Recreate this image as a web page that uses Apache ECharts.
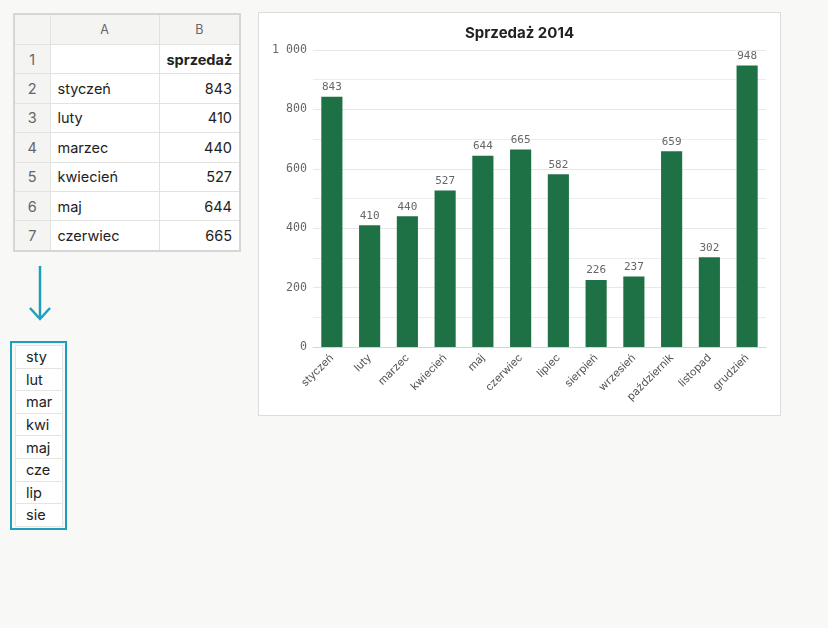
<!DOCTYPE html>
<html>
<head>
<meta charset="utf-8">
<script src="https://cdn.jsdelivr.net/npm/echarts@6/dist/echarts.min.js"></script>
<style>
  html, body { margin: 0; padding: 0; background: #f8f8f6; width: 828px; height: 628px; overflow: hidden; font-family: Inter, "Noto Sans", sans-serif; }
  #sheet { position: absolute; left: 13px; top: 13px; border-collapse: collapse; table-layout: fixed; width: 228px; border: 2px solid #d6d6d4; background: #fff; }
  #sheet td, #sheet th { border: 1px solid #e2e2e0; height: 28.4px; padding: 0 7px; font-size: 14.5px; color: #222; overflow: hidden; white-space: nowrap; }
  #sheet th { background: #f4f4f2; color: #666; font-weight: normal; font-size: 12.5px; height: 29px; }
  #sheet td.rn { background: #f4f4f2; color: #666; text-align: center; padding: 0; }
  #sheet td.num { text-align: right; }
  #sheet td.hd { text-align: right; font-weight: bold; }
  #arrow { position: absolute; left: 26px; top: 264px; }
  #short { position: absolute; left: 10px; top: 341px; border: 2px solid #1ea0bd; padding: 2px 2px 1px 3px; }
  #short table { border-collapse: collapse; background: #fff; }
  #short td { border: 1px solid #e4e4e2; width: 36px; height: 21.6px; padding: 0 0 0 10px; font-size: 14.5px; color: #222; }
  #chartBox { position: absolute; left: 258px; top: 12px; width: 521px; height: 402px; background: #fff; border: 1.5px solid #dcdcda; }
  #chart { width: 521px; height: 402px; }
</style>
</head>
<body>
<table id="sheet"><colgroup><col style="width:36px"><col style="width:109px"><col style="width:81px"></colgroup><tbody></tbody></table>
<svg id="arrow" width="28" height="60">
  <line x1="14" y1="2" x2="14" y2="55" stroke="#1ea0bd" stroke-width="2.5"/>
  <polyline points="4,44 14,55 24,44" fill="none" stroke="#1ea0bd" stroke-width="2.5"/>
</svg>
<div id="short"><table></table></div>
<div id="chartBox"><div id="chart"></div></div>
<script>
// dane
const chartTitle = "Sprzedaż 2014";
const seriesName = "sprzedaż";
const months = ["styczeń", "luty", "marzec", "kwiecień", "maj", "czerwiec", "lipiec", "sierpień", "wrzesień", "październik", "listopad", "grudzień"];
const sales = [843, 410, 440, 527, 644, 665, 582, 226, 237, 659, 302, 948];
const sheetRows = 6; // ile miesięcy widać w arkuszu
const shortMonths = ["sty", "lut", "mar", "kwi", "maj", "cze", "lip", "sie"];
const yTicks = [0, 200, 400, 600, 800, 1000];

// arkusz
let html = '<tr><th></th><th>A</th><th>B</th></tr>';
html += '<tr><td class="rn">1</td><td></td><td class="hd">' + seriesName + '</td></tr>';
for (let i = 0; i < sheetRows; i++) {
  html += '<tr><td class="rn">' + (i + 2) + '</td><td>' + months[i] + '</td><td class="num">' + sales[i] + '</td></tr>';
}
document.querySelector("#sheet tbody").innerHTML = html;

// skróty
document.querySelector("#short table").innerHTML = shortMonths.map(s => '<tr><td>' + s + '</td></tr>').join("");

// wykres
const chart = echarts.init(document.getElementById("chart"), null, { renderer: "canvas" });
const mono = "'DejaVu Sans Mono', 'Liberation Mono', monospace";
chart.setOption({
  animation: false,
  title: {
    text: chartTitle,
    left: "center",
    top: 8,
    textStyle: { fontFamily: "Inter, 'Noto Sans', sans-serif", fontSize: 15, fontWeight: "bold", color: "#222" }
  },
  grid: { left: 54, right: 14, top: 37, bottom: 68 },
  xAxis: {
    type: "category",
    data: months,
    axisLine: { lineStyle: { color: "#d4d4d4" } },
    axisTick: { show: false },
    axisLabel: { rotate: 45, interval: 0, margin: 9, fontFamily: "Inter, 'Noto Sans', sans-serif", fontSize: 11, color: "#555" }
  },
  yAxis: {
    type: "value",
    min: yTicks[0],
    max: yTicks[yTicks.length - 1],
    interval: 200,
    axisLine: { show: false },
    axisTick: { show: false },
    splitLine: { lineStyle: { color: "#e8e8e8" } },
    minorTick: { show: false, splitNumber: 2 },
    minorSplitLine: { show: true, lineStyle: { color: "#ececec" } },
    axisLabel: {
      margin: 6,
      fontFamily: mono,
      fontSize: 11.6,
      color: "#666",
      formatter: v => String(v).replace(/\B(?=(\d{3})+(?!\d))/g, " ")
    }
  },
  series: [{
    name: seriesName,
    type: "bar",
    data: sales,
    barCategoryGap: "44%",
    itemStyle: { color: "#1e7145" },
    label: { show: true, position: "top", distance: 4, fontFamily: mono, fontSize: 11, color: "#666" }
  }]
});
</script>
</body>
</html>
